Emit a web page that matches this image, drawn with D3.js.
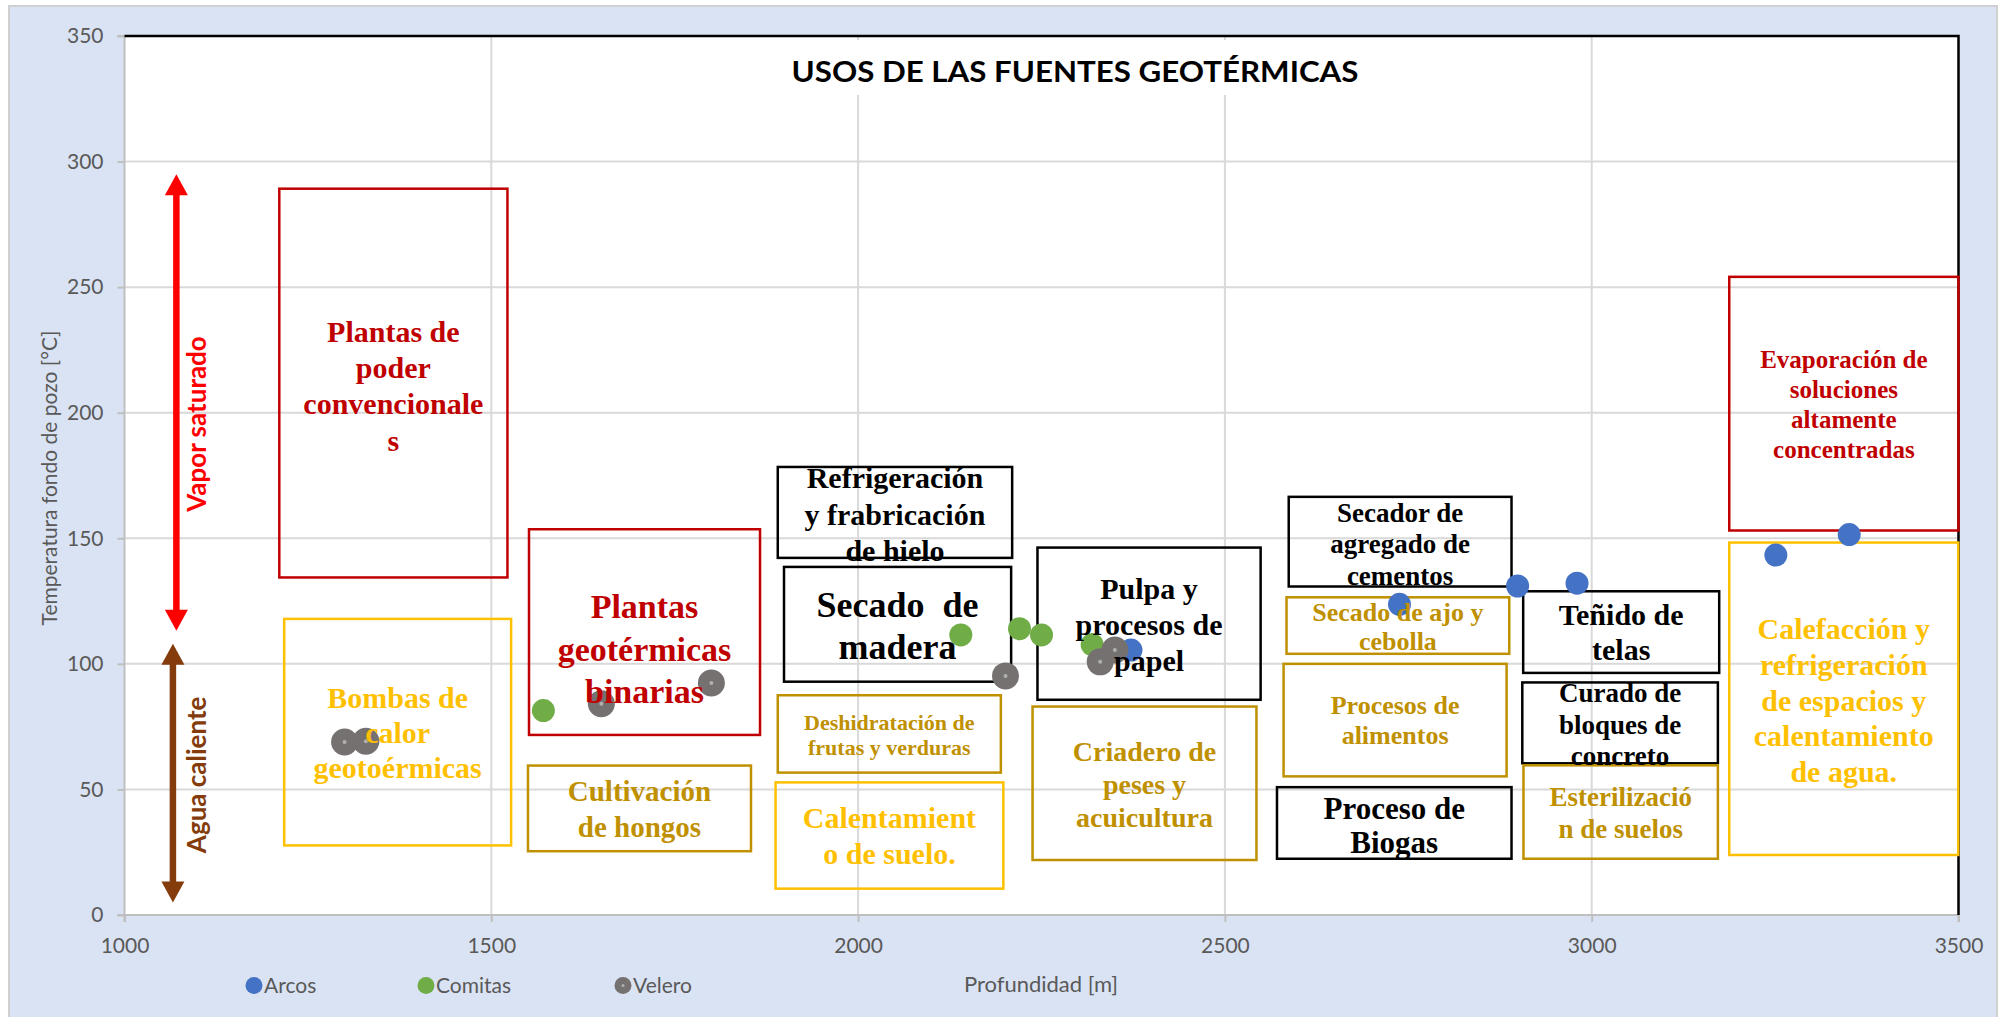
<!DOCTYPE html>
<html><head><meta charset="utf-8">
<script src="https://cdn.jsdelivr.net/npm/d3@7"></script>
<style>body{margin:0;background:#fff}</style>
</head><body>
<svg id="c" width="2003" height="1017"></svg>
<script>
// ---- data ----
const xTicks = [1000, 1500, 2000, 2500, 3000, 3500];
const yTicks = [0, 50, 100, 150, 200, 250, 300, 350];
const seriesNames = ["Arcos", "Comitas", "Velero"];
const arcosX = [2372, 2738, 2899, 2980, 3251, 3351];
const arcosY = [105.5, 123.7, 131, 132.1, 143.3, 151.5];
const comitasX = [1571, 2140, 2220, 2250, 2319];
const comitasY = [81.4, 111.5, 114, 111.5, 107.7];
const veleroX = [1300, 1329, 1650, 1800, 2201, 2330, 2350];
const veleroY = [68.9, 69.2, 84.1, 92.4, 95.2, 100.8, 105.5];
const titleText = "USOS DE LAS FUENTES GEOTÉRMICAS";
const xLabel = "Profundidad [m]";
const yLabel = "Temperatura fondo de pozo [°C]";
// annotation boxes in data units (depth, temperature)
const annotations = [
  {lines:["Plantas de","poder","convencionale","s"], x0:1211, x1:1522, y0:134.4, y1:289.2, kind:"red", fs:30, lh:36.4, ty:210.5},
  {lines:["Bombas de","calor","geotoérmicas"], x0:1217.7, x1:1527, y0:27.7, y1:117.9, kind:"gold", fs:30, lh:35, ty:72.5},
  {lines:["Plantas","geotérmicas","binarias"], x0:1551.4, x1:1866.3, y0:71.7, y1:153.6, kind:"red", fs:34, lh:42.5, ty:105.8},
  {lines:["Cultivación","de hongos"], x0:1550, x1:1854, y0:25.4, y1:59.5, kind:"dark", fs:29, lh:36, ty:42.2},
  {lines:["Refrigeración","y frabricación","de hielo"], x0:1890.5, x1:2210, y0:142.2, y1:178.4, kind:"black", fs:30, lh:36.4, ty:159.4},
  {lines:["Secado  de","madera"], x0:1899, x1:2208.6, y0:92.9, y1:138.6, kind:"black", fs:36, lh:42, ty:114.9},
  {lines:["Deshidratación de","frutas y verduras"], x0:1890.5, x1:2194.6, y0:56.7, y1:87.5, kind:"dark", fs:22, lh:25.6, ty:71.6},
  {lines:["Calentamient","o de suelo."], x0:1887.5, x1:2198, y0:10.5, y1:52.8, kind:"gold", fs:30, lh:36, ty:31.5},
  {lines:["Pulpa y","procesos de","papel"], x0:2244.5, x1:2548.7, y0:85.7, y1:146.3, kind:"black", fs:30, lh:36, ty:115.3},
  {lines:["Criadero de","peses y","acuicultura"], x0:2237.8, x1:2543, y0:21.9, y1:83, kind:"dark", fs:28, lh:33, ty:52},
  {lines:["Secador de","agregado de","cementos"], x0:2587, x1:2890.7, y0:130.8, y1:166.5, kind:"black", fs:27, lh:31.5, ty:147.6},
  {lines:["Secado de ajo y","cebolla"], x0:2584, x1:2887.6, y0:104, y1:126.5, kind:"dark", fs:26, lh:29.5, ty:114.8},
  {lines:["Procesos de","alimentos"], x0:2580, x1:2884, y0:55.2, y1:100, kind:"dark", fs:26, lh:30, ty:77.5},
  {lines:["Proceso de","Biogas"], x0:2571, x1:2890.7, y0:22.4, y1:50.9, kind:"black", fs:31, lh:34, ty:35.7},
  {lines:["Teñido de","telas"], x0:2906.6, x1:3173.8, y0:96.4, y1:128.9, kind:"black", fs:30, lh:35.7, ty:112.5},
  {lines:["Curado de","bloques de","concreto"], x0:2905.4, x1:3172, y0:60.4, y1:92.6, kind:"black", fs:27, lh:31.8, ty:75.8},
  {lines:["Esterilizació","n de suelos"], x0:2907, x1:3172, y0:22.4, y1:59.6, kind:"dark", fs:27, lh:31.8, ty:40.5},
  {lines:["Evaporación de","soluciones","altamente","concentradas"], x0:3187.5, x1:3500, y0:153.1, y1:254.1, kind:"red", fs:25, lh:30, ty:203.2},
  {lines:["Calefacción y","refrigeración","de espacios y","calentamiento","de agua."], x0:3187.5, x1:3499.6, y0:23.9, y1:148.3, kind:"gold", fs:30, lh:35.7, ty:85.3}
];
const arrowSpecs = [
  {label:"Vapor saturado", x:1070.7, from:113.2, to:295, labelX:1098, labelY:195.5, color:"#FF0000"},
  {label:"Agua caliente", x:1066, from:5, to:108, labelX:1098, labelY:55.8, color:"#843C0C"}
];

// ---- styles ----
const kindColor = {red:"#C00000", gold:"#FFC000", dark:"#BF9000", black:"#000000"};
const seriesColor = ["#4472C4", "#70AD47", "#767171"];
const sans = "Lato, 'Open Sans', sans-serif";
const serif = "'Liberation Serif', 'Times New Roman', serif";

const svg = d3.select("#c");
const x = d3.scaleLinear().domain([1000, 3500]).range([124.5, 1958.5]);
const y = d3.scaleLinear().domain([0, 350]).range([915, 36]);

// background
svg.append("rect").attr("x", 9).attr("y", 6).attr("width", 1988).attr("height", 1020)
  .attr("fill", "#DAE3F3").attr("stroke", "#D0D0D0").attr("stroke-width", 2);
svg.append("rect").attr("x", x(1000)).attr("y", y(350))
  .attr("width", x(3500) - x(1000)).attr("height", y(0) - y(350)).attr("fill", "#fff");

// gridlines
const grid = svg.append("g");
grid.selectAll("line.v").data(xTicks.filter(t => t > 1000 && t < 3500)).join("line")
  .attr("x1", d => x(d)).attr("x2", d => x(d)).attr("y1", y(350)).attr("y2", y(0))
  .attr("stroke", "#D9D9D9").attr("stroke-width", 2);
grid.selectAll("line.h").data(yTicks.filter(t => t > 0 && t < 350)).join("line")
  .attr("x1", x(1000)).attr("x2", x(3500)).attr("y1", d => y(d)).attr("y2", d => y(d))
  .attr("stroke", "#D9D9D9").attr("stroke-width", 2);

// axes
const yAxis = svg.append("g").attr("transform", `translate(${x(1000)},0)`)
  .call(d3.axisLeft(y).tickValues(yTicks).tickSize(7).tickPadding(14));
const xAxis = svg.append("g").attr("transform", `translate(0,${y(0)})`)
  .call(d3.axisBottom(x).tickValues(xTicks).tickSize(7).tickPadding(16).tickFormat(d3.format("d")));
[yAxis, xAxis].forEach(g => {
  g.select(".domain").attr("stroke", "#BFBFBF").attr("stroke-width", 2);
  g.selectAll(".tick line").attr("stroke", "#BFBFBF").attr("stroke-width", 2);
  g.selectAll(".tick text").attr("fill", "#595959").style("font-family", sans).style("font-size", "21px");
});
yAxis.select(".domain").attr("d", `M-7,${y(0)}H0V${y(350)}H-7`);
xAxis.select(".domain").attr("d", `M${x(1000)},7V0H${x(3500)}V7`);

// top & right black border
svg.append("path").attr("d", `M${x(1000)},${y(350)}H${x(3500)}V${y(0)}`)
  .attr("fill", "none").attr("stroke", "#000").attr("stroke-width", 2.5);

// title
svg.append("rect").attr("x", 760).attr("y", 40).attr("width", 630).attr("height", 55).attr("fill", "#fff");
svg.append("text").attr("x", 1075).attr("y", 82).attr("text-anchor", "middle")
  .attr("textLength", 567).attr("lengthAdjust", "spacingAndGlyphs")
  .style("font-family", sans).style("font-weight", "bold").style("font-size", "29px").attr("fill", "#000")
  .text(titleText);

// box borders
svg.append("g").selectAll("rect").data(annotations).join("rect")
  .attr("x", d => x(d.x0)).attr("y", d => y(d.y1))
  .attr("width", d => x(d.x1) - x(d.x0)).attr("height", d => y(d.y0) - y(d.y1))
  .attr("fill", "none").attr("stroke", d => kindColor[d.kind]).attr("stroke-width", 2.5);

// arrows
arrowSpecs.forEach(a => {
  const g = svg.append("g");
  const px = x(a.x), top = y(a.to), bot = y(a.from), hl = 21, hw = 11.5;
  g.append("line").attr("x1", px).attr("x2", px).attr("y1", top + hl - 2).attr("y2", bot - hl + 2)
    .attr("stroke", a.color).attr("stroke-width", 6.5);
  g.append("path").attr("d", `M${px},${top}L${px - hw},${top + hl}L${px + hw},${top + hl}Z`).attr("fill", a.color);
  g.append("path").attr("d", `M${px},${bot}L${px - hw},${bot - hl}L${px + hw},${bot - hl}Z`).attr("fill", a.color);
  g.append("text").attr("transform", `translate(${x(a.labelX)},${y(a.labelY)}) rotate(-90)`)
    .attr("text-anchor", "middle").attr("dominant-baseline", "central")
    .style("font-family", sans).style("font-weight", "bold").style("font-size", "26px")
    .attr("fill", a.color).text(a.label);
});

// points
const series = [
  {xs: arcosX, ys: arcosY, r: 11.5},
  {xs: comitasX, ys: comitasY, r: 11.5},
  {xs: veleroX, ys: veleroY, r: 13.5}
];
series.forEach((s, i) => {
  const pts = s.xs.map((v, j) => [v, s.ys[j]]);
  const g = svg.append("g");
  g.selectAll("circle").data(pts).join("circle")
    .attr("cx", d => x(d[0])).attr("cy", d => y(d[1])).attr("r", s.r).attr("fill", seriesColor[i]);
  if (i === 2) {
    g.selectAll("circle.c").data(pts).join("circle").attr("class", "c")
      .attr("cx", d => x(d[0])).attr("cy", d => y(d[1])).attr("r", 2).attr("fill", "#B0B0B0");
  }
});

// box texts
const tg = svg.append("g");
annotations.forEach(d => {
  const cx = (x(d.x0) + x(d.x1)) / 2, cy = y(d.ty), n = d.lines.length;
  d.lines.forEach((ln, i) => {
    tg.append("text").attr("x", cx).attr("y", cy + (i - (n - 1) / 2) * d.lh + 0.33 * d.fs)
      .attr("text-anchor", "middle").style("font-family", serif).style("font-weight", "bold")
      .style("font-size", d.fs + "px").style("white-space", "pre").attr("fill", kindColor[d.kind]).text(ln);
  });
});

// axis titles
svg.append("text").attr("transform", `translate(48,478) rotate(-90)`).attr("text-anchor", "middle")
  .attr("dominant-baseline", "central").style("font-family", sans).style("font-size", "21px")
  .attr("fill", "#595959").text(yLabel);
svg.append("text").attr("x", 1041).attr("y", 992).attr("text-anchor", "middle")
  .style("font-family", sans).style("font-size", "22px").attr("fill", "#595959").text(xLabel);

// legend
const legX = [254, 426, 623];
const lg = svg.append("g");
seriesNames.forEach((nm, i) => {
  lg.append("circle").attr("cx", legX[i]).attr("cy", 985.5).attr("r", 8.5).attr("fill", seriesColor[i]);
  if (i === 2) lg.append("circle").attr("cx", legX[i]).attr("cy", 985.5).attr("r", 1.5).attr("fill", "#B0B0B0");
  lg.append("text").attr("x", legX[i] + 10).attr("y", 993).style("font-family", sans).style("font-size", "21px")
    .attr("fill", "#595959").text(nm);
});
</script>
</body></html>
